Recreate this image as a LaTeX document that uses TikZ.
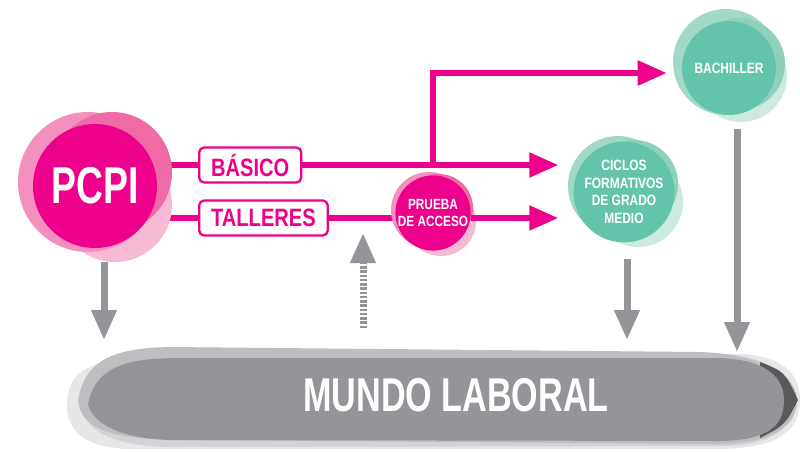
\documentclass[tikz,border=0pt]{standalone}
\usepackage{fontspec}
\newfontfamily\condfont{Liberation Sans Bold}[FakeStretch=0.8]
\newfontfamily\narrowfont{Liberation Sans Bold}[FakeStretch=0.72]
\usetikzlibrary{arrows.meta,calc}
\definecolor{cpink}{HTML}{EC008C}
\definecolor{pinkA}{HTML}{F390C0}
\definecolor{pinkB}{HTML}{F06AA8}
\definecolor{pinkC}{HTML}{F7BAD5}
\definecolor{cteal}{HTML}{64C3AB}
\definecolor{tealA}{HTML}{A2D8C8}
\definecolor{tealB}{HTML}{8FD0BD}
\definecolor{tealC}{HTML}{CDEAE1}
\definecolor{cgray}{HTML}{939598}
\definecolor{grayA}{HTML}{BCBEC0}
\definecolor{grayB}{HTML}{D1D3D4}
\definecolor{grayC}{HTML}{E6E7E8}
\definecolor{grayD}{HTML}{58595B}
\pgfdeclarelayer{back}
\pgfdeclarelayer{mid}
\pgfsetlayers{back,mid,main}
\tikzset{
  pinkline/.style={line width=0.11cm, draw=cpink},
  pinkarrow/.style={pinkline, -{Triangle[length=0.58cm,width=0.48cm]}},
  grayarrow/.style={line width=0.14cm, draw=cgray, -{Triangle[length=0.6cm,width=0.48cm]}},
  labelbox/.style={draw=cpink, line width=1.3pt, fill=white, rounded corners=0.1cm, text=cpink,
    minimum height=0.7cm, inner xsep=0.24cm, inner ysep=0pt, anchor=west,
    font=\condfont\fontsize{14.3}{14.3}\selectfont},
  pinkblob/.style={circle, fill=cpink, text=white, inner sep=0pt, align=center},
  tealblob/.style={circle, fill=cteal, text=white, inner sep=0pt, align=center,
    font=\condfont\fontsize{8.5}{10}\selectfont},
}
\begin{document}
\begin{tikzpicture}[x=0.02cm, y=-0.02cm]
    \useasboundingbox (0,0) rectangle (800,451);
    \node[pinkblob, minimum size=2.48cm, font=\narrowfont\fontsize{29.5}{29.5}\selectfont] (pcpi) at (95,186) {PCPI};
    \node[labelbox] (basico) at (198,165) {BÁSICO};
    \node[labelbox] (talleres) at (198,218) {TALLERES};
    \node[pinkblob, minimum size=1.4cm, font=\condfont\fontsize{8.4}{9.6}\selectfont] (prueba) at (433,213) {PRUEBA\\DE ACCESO};
    \node[tealblob, minimum size=1.76cm] (ciclos) at (624,192) {CICLOS\\FORMATIVOS\\DE GRADO\\MEDIO};
    \node[tealblob, minimum size=1.88cm] (bachiller) at (729,68) {BACHILLER};
    \node[text=white, font=\narrowfont\fontsize{27}{27}\selectfont] (mundo) at (456,395) {MUNDO LABORAL};
    \begin{pgfonlayer}{mid}
    \fill[pinkC] ([shift={(20,19)}]pcpi.center) circle (57);
    \fill[pinkA] ([shift={(-7,-4)}]pcpi.center) circle (70);
    \fill[pinkB] ([shift={(17,-14)}]pcpi.center) circle (60);
    \fill[pinkC] ([shift={(8,8)}]prueba.center) circle (35);
    \fill[pinkA] ([shift={(-4,-3)}]prueba.center) circle (38);
    \fill[pinkB] ([shift={(6,-5)}]prueba.center) circle (34);
    \fill[tealC] ([shift={(14,10)}]ciclos.center) circle (45);
    \fill[tealA] ([shift={(-6,-6)}]ciclos.center) circle (50);
    \fill[tealB] ([shift={(10,-8)}]ciclos.center) circle (44);
    \fill[tealC] ([shift={(12,8)}]bachiller.center) circle (46);
    \fill[tealA] ([shift={(-3,-6)}]bachiller.center) circle (53);
    \fill[tealB] ([shift={(10,-4)}]bachiller.center) circle (46);
    \fill[grayC] (67,405) .. controls (67,375) and (85,362) .. (130,358) -- (740,354)
      .. controls (790,356) and (800,380) .. (800,400) .. controls (800,430) and (780,448) .. (720,449)
      -- (130,449) .. controls (90,448) and (67,435) .. (67,405) -- cycle;
    \fill[grayB] (80,400) .. controls (85,365) and (110,352) .. (170,350) -- (720,354)
      .. controls (775,356) and (793,380) .. (793,400) .. controls (793,430) and (770,446) .. (720,446)
      -- (170,447) .. controls (110,446) and (82,430) .. (80,400) -- cycle;
    \fill[grayA] (78,400) .. controls (85,362) and (110,348) .. (170,347) -- (700,352)
      .. controls (760,354) and (797,375) .. (797,400) .. controls (797,425) and (775,443) .. (720,444)
      -- (170,440) .. controls (110,438) and (80,428) .. (78,400) -- cycle;
    \fill[grayD] (760,362) .. controls (785,372) .. (798,400) .. controls (785,425) .. (760,438) -- cycle;
    \fill[cgray] (88,405) .. controls (95,365) and (130,358) .. (180,358) -- (720,358)
      .. controls (770,360) and (784,380) .. (784,400) .. controls (784,425) and (770,440) .. (720,441)
      -- (170,440) .. controls (120,438) and (95,425) .. (88,405) -- cycle;
    \end{pgfonlayer}
    \begin{pgfonlayer}{back}
    \draw[pinkline] (pcpi.center |- basico.west) -- (basico.west);
    \draw[pinkline] (pcpi.center |- talleres.west) -- (talleres.west);
    \draw[pinkline] (talleres.east) -- (talleres.east -| prueba.center);
    \end{pgfonlayer}
    \draw[pinkarrow, shorten >=0.3cm] (basico.east) -- (basico.east -| ciclos.west);
    \draw[pinkarrow, shorten >=0.3cm] (basico.east -| prueba.center) |- ($(bachiller.west)+(0,5)$);
    \draw[pinkarrow, shorten >=0.3cm] (prueba.east |- talleres.east) -- (talleres.east -| ciclos.west);
    \coordinate (pcpiout) at ($(pcpi.south)+(9,14)$);
    \coordinate (cicout) at ($(ciclos.south)+(3,16)$);
    \coordinate (bachout) at ($(bachiller.south)+(8,14)$);
    \coordinate (gate) at (363,218);
    \coordinate (floor) at (0,378);
    \draw[grayarrow, shorten >=0.76cm] (pcpiout) -- (pcpiout |- floor);
    \draw[grayarrow, shorten >=0.76cm] (cicout) -- (cicout |- floor);
    \draw[grayarrow, shorten >=0.52cm] (bachout) -- (bachout |- floor);
    \draw[grayarrow, dash pattern=on 0.05cm off 0.035cm, shorten <=1cm, shorten >=0.3cm] (gate |- floor) -- (gate);
\end{tikzpicture}
\end{document}
